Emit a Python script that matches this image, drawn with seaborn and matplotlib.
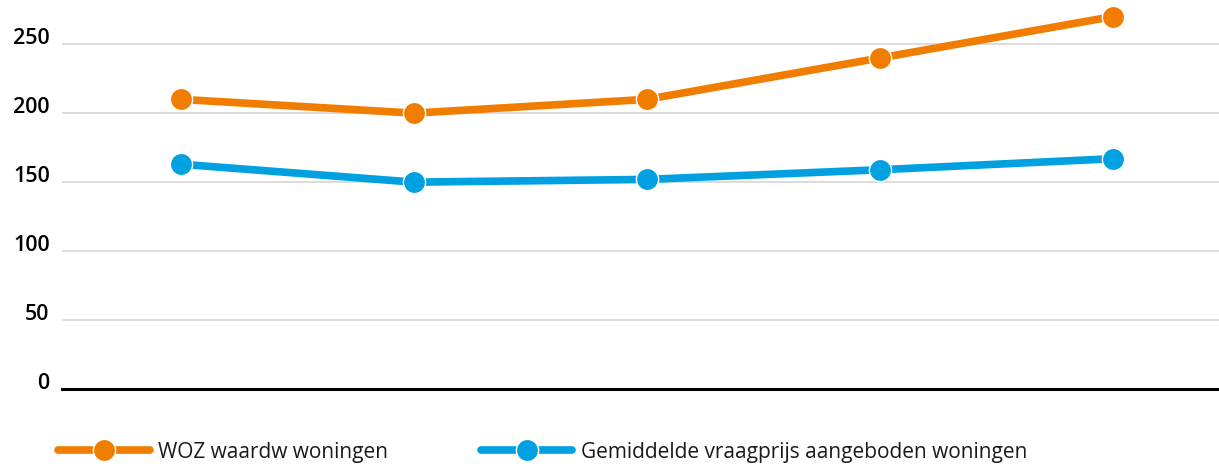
import numpy as np
import pandas as pd
import seaborn as sns
import matplotlib.pyplot as plt

# data (x labels are not shown in the original)
periods = ["1", "2", "3", "4", "5"]
woz = [210, 200, 210, 240, 270]
vraagprijs = [163, 150, 152, 159, 167]
series_names = ["WOZ waardw woningen", "Gemiddelde vraagprijs aangeboden woningen"]
yticks = [0, 50, 100, 150, 200, 250]

df = pd.DataFrame({
    "periode": periods * 2,
    "waarde": woz + vraagprijs,
    "reeks": [series_names[0]] * len(periods) + [series_names[1]] * len(periods),
})

sns.set_style("white")
plt.rcParams["font.family"] = ["Open Sans", "DejaVu Sans"]

fig = plt.figure(figsize=(12.19, 4.70), dpi=100)
ax = fig.add_axes([0.051, 0.172, 0.949, 0.828])

palette = {series_names[0]: "#F07D00", series_names[1]: "#00A0E1"}
sns.lineplot(data=df, x="periode", y="waarde", hue="reeks", palette=palette,
             marker="o", markersize=16, markeredgecolor="white", markeredgewidth=1,
             linewidth=5.5, ax=ax, legend=True, clip_on=False)

ax.set_xlim(-0.51, 4.455)
ax.set_ylim(0, 282)
ax.set_yticks(yticks)
ax.set_yticklabels([str(t) for t in yticks], fontsize=15.5, fontweight="semibold",
                   color="black")
for lab in ax.get_yticklabels():
    lab.set_verticalalignment("baseline")
ax.tick_params(axis="y", length=0, pad=9)
ax.set_xticks([])
ax.set_xlabel("")
ax.set_ylabel("")
ax.yaxis.grid(True, color="#d9d9d9", linewidth=1.3)
ax.set_axisbelow(True)
for side in ["top", "right", "left"]:
    ax.spines[side].set_visible(False)
ax.spines["bottom"].set_color("black")
ax.spines["bottom"].set_linewidth(2.2)

handles, labels = ax.get_legend_handles_labels()
ax.legend_.remove()
leg = fig.legend(handles, labels, loc="center left", bbox_to_anchor=(0.0476, 0.038),
                 ncol=2, frameon=False, fontsize=15, handlelength=4.4,
                 handletextpad=0.4, columnspacing=4.45, numpoints=1,
                 borderpad=0, borderaxespad=0)
for t in leg.get_texts():
    t.set_color("#1a1a1a")

fig.savefig("out.png", dpi=100)
